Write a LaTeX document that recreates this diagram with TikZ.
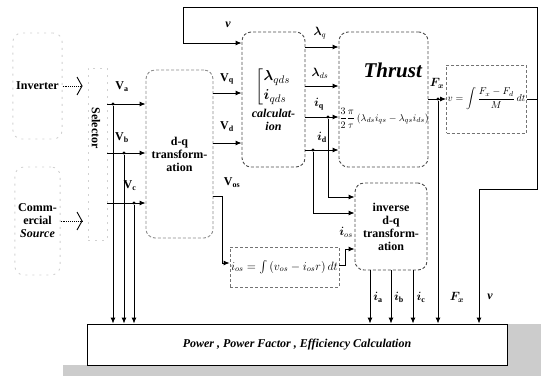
\documentclass[tikz,border=0pt]{standalone}
\usepackage{amsmath,amssymb}
\usepackage{fontspec}
\setmainfont{Liberation Serif}
\usepackage{tikz}
\usetikzlibrary{arrows.meta}

\newcommand{\sig}[2]{\textbf{#1}\textsubscript{\textbf{#2}}}

\begin{document}
\begin{tikzpicture}[x=1pt, y=-1pt, font=\fontsize{12}{13}\selectfont\bfseries,
    line width=0.9pt,
    blk/.style={draw=black!70, densely dashed, rounded corners=9pt, align=center, inner sep=2pt},
    faint/.style={draw=black!18, dash pattern=on 2pt off 5pt, rounded corners=9pt, align=center},
    sqblk/.style={draw=black!55, densely dashed, align=center, inner sep=1pt},
    arr/.style={-{Latex[length=6pt,width=5pt]}},
    dot/.style={circle, fill, inner sep=1.1pt},
    src/.style={densely dotted, -{Straight Barb[length=5pt,width=18pt]}}]
    \useasboundingbox (0,0) rectangle (541,376);

    % Sources and selector
    \node[faint, minimum width=45pt, minimum height=106pt] (inv) at (37.5,86) {Inverter};
    \node[faint, minimum width=45pt, minimum height=108pt] (com) at (37.5,221) {Comm-\\ercial\\\textit{Source}};
    \node[faint, rounded corners=0pt, minimum width=19pt, minimum height=172pt] (sel) at (97.5,154) {};
    \node[rotate=-90] (sellbl) at (96,128) {Selector};
    \draw[src, shorten >=5pt] (inv.east) -- (inv.east -| sel.west);
    \draw[src, shorten >=5pt] (com.east) -- (com.east -| sel.west);

    % Blocks
    \node[blk, draw=black!45, minimum width=67pt, minimum height=168pt] (dq) at (179.5,154) {d-q\\transform-\\ation};
    \node[blk, minimum width=63pt, minimum height=135pt] (calc) at (273.5,99.5)
        {{\fontsize{15}{17}\selectfont$\left[\begin{array}{@{}l@{}}\boldsymbol{\lambda}_{qds}\\[2pt]\boldsymbol{i}_{qds}\end{array}\right.$}\\[3pt]\textit{calculat-}\\\textit{ion}};
    \node[blk, minimum width=89pt, minimum height=135pt] (thr) at (383.5,99.5) {};
    \node (thrlbl) at (393,70) {\fontsize{21}{22}\selectfont\textit{Thrust}};
    \node (thrfx) at (384,118) {\fontsize{10}{12}\selectfont$\dfrac{3}{2}\dfrac{\pi}{\tau}\left(\lambda_{ds}i_{qs}-\lambda_{qs}i_{ds}\right)$};
    \node[sqblk, minimum width=77pt, minimum height=68pt] (vb) at (486.5,99)
        {\fontsize{10}{12}\selectfont$\displaystyle v=\int\frac{F_x-F_d}{M}\,dt$};
    \node[sqblk, minimum width=105pt, minimum height=40pt] (ios) at (284.5,267) {$i_{os}=\int\left(v_{os}-i_{os}r\right)dt$};
    \node[blk, minimum width=72pt, minimum height=87pt] (idq) at (391,226.5) {inverse\\d-q\\transform-\\ation};

    % Output box with shadow
    \fill[black!20] (63,365) rectangle (541,376);
    \fill[black!20] (507,324) rectangle (541,376);
    \node[draw, fill=white, minimum width=420pt, minimum height=41pt] (pwr) at (297,344.5)
        {\textit{Power , Power Factor , Efficiency Calculation}};

    % Phase voltages
    \node[dot] (ja) at (113,104) {};
    \node[dot] (jb) at (124,153) {};
    \node[dot] (jc) at (134,203) {};
    \foreach \j in {ja,jb,jc} {
        \draw[arr] (\j -| sel.east) -- (\j -| dq.west);
        \draw[arr] (\j) -- (\j |- pwr.north);
    }
    \node (va) at (122,87) {\sig{V}{a}};
    \node (vbl) at (122,138) {\sig{V}{b}};
    \node (vc) at (130,186) {\sig{V}{c}};

    % d-q voltages
    \coordinate (lq) at (227,93);
    \coordinate (ld) at (227,143);
    \draw[arr] (dq.east |- lq) -- (calc.west |- lq);
    \draw[arr] (dq.east |- ld) -- (calc.west |- ld);
    \node (vq) at (227,79) {\sig{V}{q}};
    \node (vd) at (227,127) {\sig{V}{d}};
    \coordinate (o1) at (222,196);
    \coordinate (o2) at (222,263);
    \draw[arr] (dq.east |- o1) -- (o1) -- (o2) -- (ios.west |- o2);
    \node (vos) at (232,183) {\sig{V}{os}};

    % Speed feedback
    \coordinate (fr) at (537,99);
    \coordinate (ft) at (537,7);
    \coordinate (fl) at (183,43);
    \coordinate (fb) at (537,189);
    \coordinate (fv) at (479,189);
    \draw (vb.east) -- (fr);
    \draw[arr] (fr) -- (ft) -| (fl) -- (calc.west |- fl);
    \draw[arr] (fr) -- (fb) -- (fv) -- (fv |- pwr.north);
    \node (vtop) at (228,25) {\textit{v}};
    \node (vbot) at (490,297) {\textit{v}};

    % Flux and currents
    \coordinate (l1) at (322,47);
    \coordinate (l2) at (322,86);
    \node[dot] (jq) at (328,117) {};
    \node[dot] (jd) at (313,150) {};
    \foreach \j in {l1,l2,jq,jd}
        \draw[arr] (calc.east |- \j) -- (thr.west |- \j);
    \coordinate (q2) at (328,197);
    \coordinate (d2) at (313,213);
    \draw[arr] (jq) -- (q2) -- (idq.west |- q2);
    \draw[arr] (jd) -- (d2) -- (idq.west |- d2);
    \node (lql) at (320,33) {$\boldsymbol{\lambda}_{q}$};
    \node (ldl) at (320,73) {$\boldsymbol{\lambda}_{ds}$};
    \node (iql) at (319,104) {$\boldsymbol{i}_{\mathbf{q}}$};
    \node (idl) at (322,137) {$\boldsymbol{i}_{\mathbf{d}}$};

    % Thrust output
    \node[dot] (jf) at (438,99) {};
    \draw[arr] (thr.east |- jf) -- (vb.west |- jf);
    \draw[arr] (jf) -- (jf |- pwr.north);
    \node (fx1) at (437,83) {$\boldsymbol{F_x}$};
    \node (fx2) at (457,297) {$\boldsymbol{F_x}$};

    % Zero sequence current
    \coordinate (s1) at (345,265);
    \coordinate (s2) at (345,249);
    \draw[arr] (ios.east |- s1) -- (s1) -- (s2) -- (idq.west |- s2);
    \node (iosl) at (346,232) {$\boldsymbol{i}_{os}$};

    % Phase currents
    \foreach \x/\n in {370/a,391/b,413/c} {
        \coordinate (o\n) at (\x,270);
        \draw[arr] (o\n) -- (o\n |- pwr.north);
        \node (i\n) at (\x+8,297) {$\boldsymbol{i}_{\mathbf{\n}}$};
    }
\end{tikzpicture}
\end{document}
